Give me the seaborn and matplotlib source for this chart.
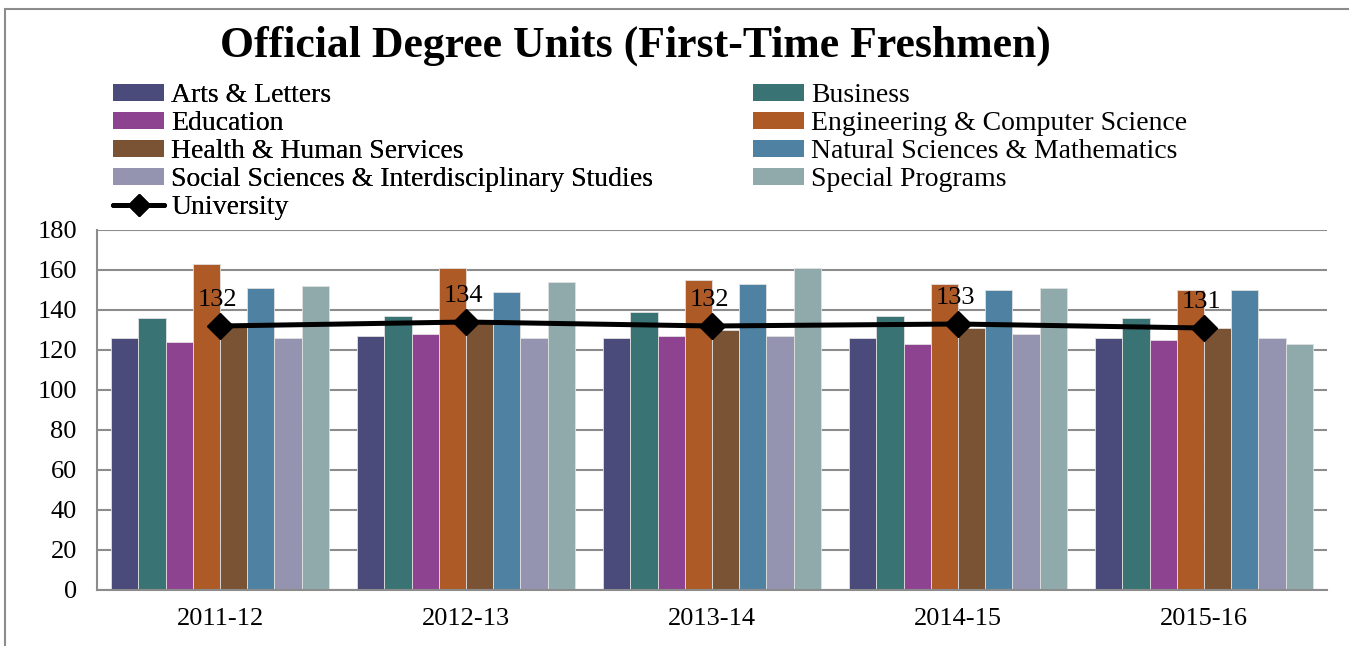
import numpy as np
import pandas as pd
import matplotlib
matplotlib.use("Agg")
import matplotlib.pyplot as plt
from matplotlib.patches import Patch, Rectangle
from matplotlib.lines import Line2D
import seaborn as sns

years = ["2011-12", "2012-13", "2013-14", "2014-15", "2015-16"]
colleges = [
    "Arts & Letters",
    "Business",
    "Education",
    "Engineering & Computer Science",
    "Health & Human Services",
    "Natural Sciences & Mathematics",
    "Social Sciences & Interdisciplinary Studies",
    "Special Programs",
]
arts = [126, 127, 126, 126, 126]
business = [136, 137, 139, 137, 136]
education = [124, 128, 127, 123, 125]
engineering = [163, 161, 155, 153, 150]
health = [133, 134, 130, 131, 131]
natural = [151, 149, 153, 150, 150]
social = [126, 126, 127, 128, 126]
special = [152, 154, 161, 151, 123]
university = [132, 134, 132, 133, 131]

colors = ["#4A4A7B", "#3A7373", "#8E4391", "#AE5A27", "#7A5234",
          "#4F82A2", "#9494B1", "#90AAAB"]

series = [arts, business, education, engineering, health, natural, social, special]
df = pd.DataFrame(
    [(y, c, v) for c, vals in zip(colleges, series) for y, v in zip(years, vals)],
    columns=["year", "college", "value"],
)

sns.set_theme(style="white")
plt.rcParams["font.family"] = ["Liberation Serif", "DejaVu Serif"]
plt.rcParams["text.color"] = "black"

W, H = 1349, 646
fig = plt.figure(figsize=(W / 100, H / 100), dpi=100)
ax = fig.add_axes([97 / W, 1 - 590 / H, (1327 - 97) / W, (590 - 230) / H])

grid_c = "#8C8C8C"
sns.barplot(data=df, x="year", y="value", hue="college", hue_order=colleges,
            order=years, palette=colors, saturation=1, width=0.886,
            edgecolor="#E0E0E0", linewidth=0.6, legend=False, ax=ax, zorder=2)

xs = np.arange(len(years))
ax.plot(xs, university, color="black", lw=3.6, marker="D", markersize=13,
        zorder=5, solid_capstyle="butt")
for x, v in zip(xs, university):
    ax.annotate(str(v), (x, v), xytext=(-2, 19), textcoords="offset points",
                ha="center", va="center", fontsize=19, color="black", zorder=6)

ax.set_ylim(0, 180)
ax.set_xlim(-0.5, len(years) - 0.5)
ax.set_yticks(np.arange(0, 181, 20))
ax.set_xticks(np.arange(-0.5, len(years), 1.0))
ax.set_xticklabels([])
ax.set_xticks(xs, minor=True)
ax.set_xticklabels(years, minor=True)
ax.tick_params(axis="x", which="minor", length=0, pad=13, labelsize=19, colors="black")
ax.tick_params(axis="x", which="major", length=6, width=1.5, color=grid_c, direction="out")
ax.tick_params(axis="y", length=6.5, width=1.5, color=grid_c, direction="out",
               pad=8, labelsize=19, labelcolor="black")
ax.set_xlabel("")
ax.set_ylabel("")
ax.yaxis.grid(True, color=grid_c, lw=1.5)
ax.xaxis.grid(False)
ax.set_axisbelow(True)
for s in ["top", "right"]:
    ax.spines[s].set_visible(False)
for s in ["left", "bottom"]:
    ax.spines[s].set_color(grid_c)
    ax.spines[s].set_linewidth(1.5)

fig.text(635 / W, 1 - 57 / H, "Official Degree Units (First-Time Freshmen)",
         ha="center", va="baseline", fontsize=31.5, fontweight="bold", color="black")

handles = [Patch(facecolor=c, edgecolor="none") for c in colors]
uni_handle = Line2D([], [], color="black", lw=3.6, marker="D", markersize=11)
col1 = [0, 2, 4, 6]
col2 = [1, 3, 5, 7]
leg_kw = dict(frameon=False, fontsize=20, handlelength=1.85, handleheight=0.55,
              handletextpad=0.25, labelspacing=0.11, borderpad=0, borderaxespad=0,
              loc="upper left", labelcolor="black")
leg1 = fig.legend([handles[i] for i in col1] + [uni_handle],
                  [colleges[i] for i in col1] + ["University"],
                  bbox_to_anchor=(113 / W, 1 - 83 / H), **leg_kw)
fig.add_artist(leg1)
leg2 = fig.legend([handles[i] for i in col2], [colleges[i] for i in col2],
                  bbox_to_anchor=(753 / W, 1 - 83 / H), **leg_kw)

fig.add_artist(Rectangle((5 / W, -0.1), 1.2, 1.1 - 9 / H, transform=fig.transFigure,
                         fill=False, edgecolor=grid_c, lw=1.5))

fig.savefig("out.png", dpi=100)
